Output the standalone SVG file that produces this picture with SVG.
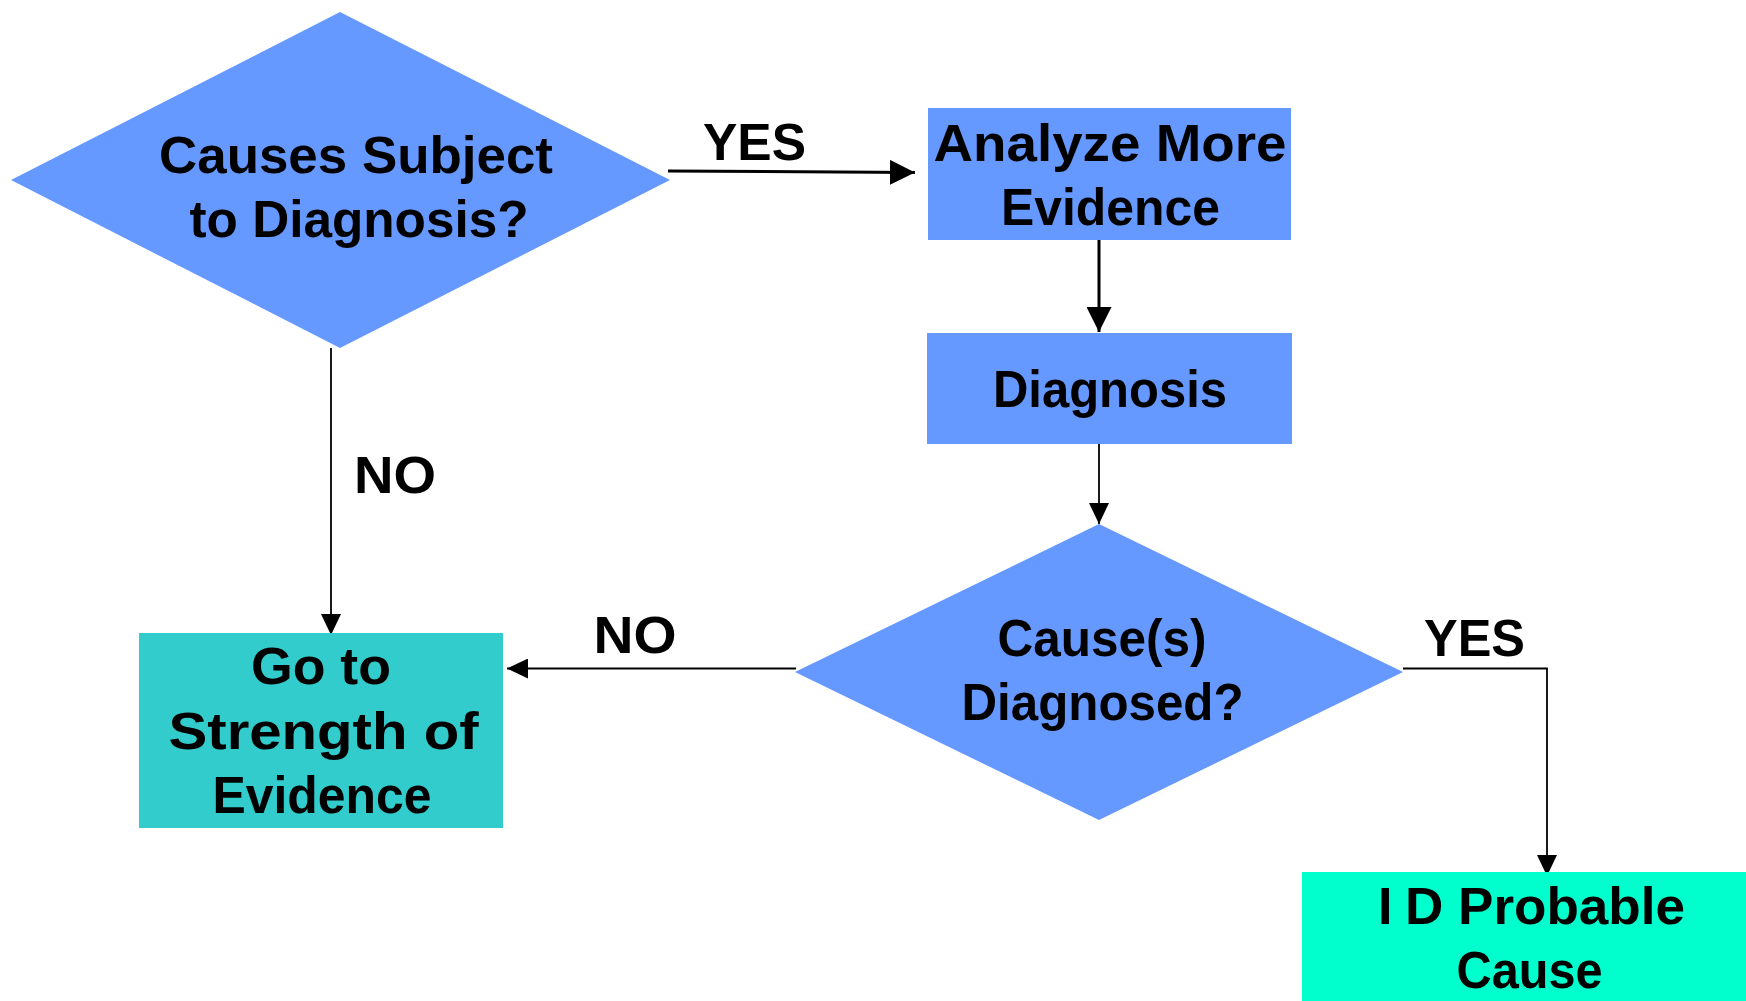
<svg xmlns="http://www.w3.org/2000/svg" width="1746" height="1001" viewBox="0 0 1746 1001">
  <style>
    .lbl { font-family: "Liberation Sans", Arial, sans-serif; font-weight: bold; font-size: 52px; fill: #000; text-anchor: middle; }
    .start { text-anchor: start; }
    .blue { fill: #6699FF; }
    .teal { fill: #33CCCC; }
    .aqua { fill: #00FFCC; }
    .thick { stroke: #000; stroke-width: 3; fill: none; }
    .thin { stroke: #000; stroke-width: 1.8; fill: none; }
  </style>
  <defs>
    <marker id="headBig" viewBox="0 0 25 25" refX="25" refY="12.5" markerWidth="25" markerHeight="25" markerUnits="userSpaceOnUse" orient="auto">
      <path d="M0,0 L25,12.5 L0,25 z" fill="#000"/>
    </marker>
    <marker id="headSmall" viewBox="0 0 21 20" refX="21" refY="10" markerWidth="21" markerHeight="20" markerUnits="userSpaceOnUse" orient="auto">
      <path d="M0,0 L21,10 L0,20 z" fill="#000"/>
    </marker>
  </defs>

  <rect width="1746" height="1001" fill="#fff"/>

  <!-- connectors -->
  <g id="connectors">
    <line class="thick" x1="668" y1="171" x2="915" y2="172.5" marker-end="url(#headBig)"/>
    <line class="thick" x1="1099" y1="237" x2="1099" y2="332" marker-end="url(#headBig)"/>
    <line class="thin" x1="1099" y1="444" x2="1099" y2="524" marker-end="url(#headSmall)"/>
    <line class="thin" x1="331" y1="348" x2="331" y2="635" marker-end="url(#headSmall)"/>
    <line class="thin" x1="796" y1="668.5" x2="507" y2="668.5" marker-end="url(#headSmall)"/>
    <polyline class="thin" points="1403,668.5 1547,668.5 1547,876" marker-end="url(#headSmall)"/>
    <text class="lbl" x="754.5" y="160" textLength="103" lengthAdjust="spacingAndGlyphs">YES</text>
    <text class="lbl" x="395" y="493" textLength="82" lengthAdjust="spacingAndGlyphs">NO</text>
    <text class="lbl" x="635" y="653" textLength="83" lengthAdjust="spacingAndGlyphs">NO</text>
    <text class="lbl" x="1474.5" y="656" textLength="101" lengthAdjust="spacingAndGlyphs">YES</text>
  </g>

  <!-- decision: subject to diagnosis -->
  <g id="subject-decision">
    <polygon class="blue" points="11,180 340,12 670,180 340,348"/>
    <text class="lbl" x="356" y="173" textLength="394" lengthAdjust="spacingAndGlyphs">Causes Subject</text>
    <text class="lbl" x="359" y="237" textLength="339" lengthAdjust="spacingAndGlyphs">to Diagnosis?</text>
  </g>

  <!-- analyze more evidence -->
  <g id="analyze">
    <rect class="blue" x="928" y="108" width="363" height="132"/>
    <text class="lbl" x="1110" y="161" textLength="353" lengthAdjust="spacingAndGlyphs">Analyze More</text>
    <text class="lbl" x="1110.5" y="224.5" textLength="219" lengthAdjust="spacingAndGlyphs">Evidence</text>
  </g>

  <!-- diagnosis -->
  <g id="diagnosis">
    <rect class="blue" x="927" y="333" width="365" height="111"/>
    <text class="lbl" x="1110" y="407" textLength="234" lengthAdjust="spacingAndGlyphs">Diagnosis</text>
  </g>

  <!-- decision: causes diagnosed -->
  <g id="diagnosed-decision">
    <polygon class="blue" points="795,672 1099,524 1403,672 1099,820"/>
    <text class="lbl" x="1102" y="656" textLength="209" lengthAdjust="spacingAndGlyphs">Cause(s)</text>
    <text class="lbl" x="1102.5" y="720" textLength="282" lengthAdjust="spacingAndGlyphs">Diagnosed?</text>
  </g>

  <!-- strength of evidence -->
  <g id="strength">
    <rect class="teal" x="139" y="633" width="364" height="195"/>
    <text class="lbl" x="321" y="684" textLength="140" lengthAdjust="spacingAndGlyphs">Go to</text>
    <text class="lbl" x="323.5" y="749" textLength="310" lengthAdjust="spacingAndGlyphs">Strength of</text>
    <text class="lbl" x="322" y="813" textLength="219" lengthAdjust="spacingAndGlyphs">Evidence</text>
  </g>

  <!-- probable cause -->
  <g id="probable-cause">
    <rect class="aqua" x="1302" y="872" width="444" height="129"/>
    <text class="lbl start" y="924"><tspan x="1378">I</tspan><tspan x="1405" textLength="280" lengthAdjust="spacingAndGlyphs">D Probable</tspan></text>
    <text class="lbl" x="1529.5" y="988" textLength="146" lengthAdjust="spacingAndGlyphs">Cause</text>
  </g>
</svg>
